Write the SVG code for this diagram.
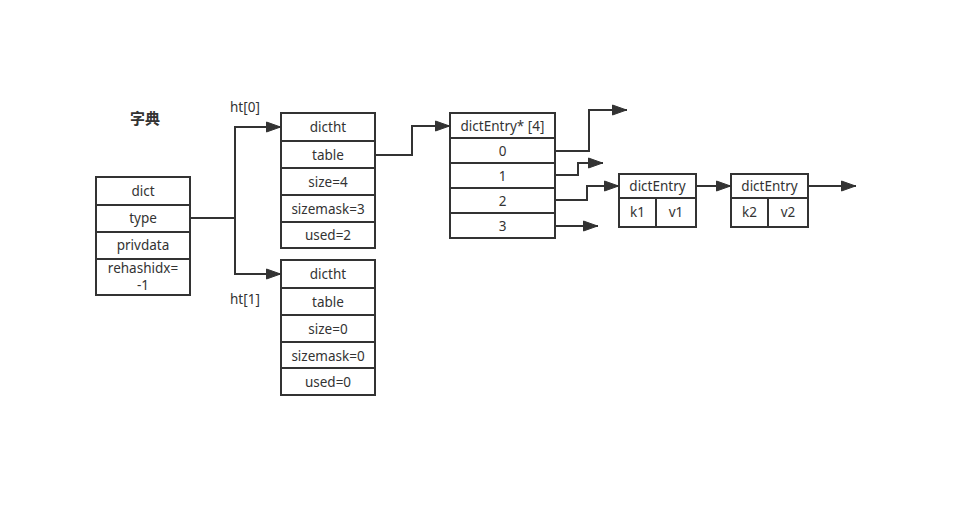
<svg xmlns="http://www.w3.org/2000/svg" width="977" height="519" viewBox="0 0 977 519">
<defs>
<style>
.box{fill:#fff;stroke:#333;stroke-width:2}
.ln{fill:none;stroke:#333;stroke-width:2}
.t{font-family:"Noto Sans","Noto Sans CJK SC",sans-serif;font-size:13.5px;fill:#333;text-anchor:middle}
.l{font-family:"Noto Sans","Noto Sans CJK SC",sans-serif;font-size:13.5px;fill:#333}
.title{font-family:"Noto Sans CJK SC",sans-serif;font-size:15px;font-weight:bold;fill:#333}
.c{fill:none;stroke:#333;stroke-width:2;marker-end:url(#arr)}
</style>
<marker id="arr" viewBox="0 0 16 12" refX="15.500" refY="6" markerWidth="8" markerHeight="6" markerUnits="strokeWidth" orient="auto">
<path d="M1,1 L15,6 L1,11 z" fill="#333" stroke="#333" stroke-width="1" stroke-linejoin="miter"/>
</marker>
</defs>
<rect width="977" height="519" fill="#fff"/>
<text class="title" x="130" y="124">字典</text>
<text class="l" x="230" y="112">ht[0]</text>
<text class="l" x="230" y="304">ht[1]</text>

<g id="dict">
<rect class="box" x="96" y="177" width="94" height="118"/>
<path class="ln" d="M96,205H190M96,232H190M96,259H190"/>
<text class="t" x="143" y="196">dict</text>
<text class="t" x="143" y="223">type</text>
<text class="t" x="143" y="250">privdata</text>
<text class="t" x="143" y="273">rehashidx=</text>
<text class="t" x="143" y="290">-1</text>
</g>

<g id="dictht0">
<rect class="box" x="281" y="113" width="94" height="135"/>
<path class="ln" d="M281,141H375M281,168H375M281,195H375M281,222H375"/>
<text class="t" x="328" y="132">dictht</text>
<text class="t" x="328" y="160">table</text>
<text class="t" x="328" y="187">size=4</text>
<text class="t" x="328" y="214">sizemask=3</text>
<text class="t" x="328" y="240">used=2</text>
</g>

<g id="dictht1">
<rect class="box" x="281" y="260" width="94" height="135"/>
<path class="ln" d="M281,288H375M281,315H375M281,342H375M281,368H375"/>
<text class="t" x="328" y="279">dictht</text>
<text class="t" x="328" y="307">table</text>
<text class="t" x="328" y="334">size=0</text>
<text class="t" x="328" y="361">sizemask=0</text>
<text class="t" x="328" y="387">used=0</text>
</g>

<g id="table">
<rect class="box" x="450" y="113" width="105" height="125"/>
<path class="ln" d="M450,138H555M450,163H555M450,188H555M450,213H555"/>
<text class="t" x="502.500" y="131">dictEntry* [4]</text>
<text class="t" x="502.500" y="156">0</text>
<text class="t" x="502.500" y="181">1</text>
<text class="t" x="502.500" y="206">2</text>
<text class="t" x="502.500" y="231">3</text>
</g>

<g id="entry1">
<rect class="box" x="619" y="174" width="77" height="53"/>
<path class="ln" d="M619,198H696M656,198V227"/>
<text class="t" x="657.500" y="191">dictEntry</text>
<text class="t" x="637.500" y="217">k1</text>
<text class="t" x="676" y="217">v1</text>
</g>

<g id="entry2">
<rect class="box" x="731" y="174" width="77" height="53"/>
<path class="ln" d="M731,198H808M768,198V227"/>
<text class="t" x="769.500" y="191">dictEntry</text>
<text class="t" x="749.500" y="217">k2</text>
<text class="t" x="788" y="217">v2</text>
</g>

<g id="connectors">
<path class="c" d="M190,218H235V127H281"/>
<path class="c" d="M235,218V274H281"/>
<path class="c" d="M375,155H412V126H450"/>
<path class="c" d="M555,151H589V110H627"/>
<path class="c" d="M555,175H578V163H603"/>
<path class="c" d="M555,200H587V186H619"/>
<path class="c" d="M555,226H598"/>
<path class="c" d="M696,186H731"/>
<path class="c" d="M808,186H856"/>
</g>
</svg>
